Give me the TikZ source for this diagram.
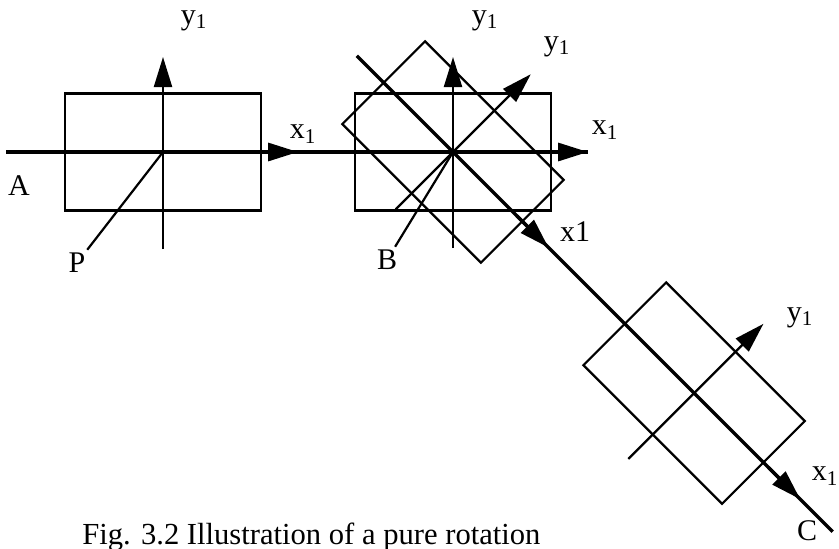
\documentclass[tikz,border=0pt]{standalone}
\usepackage{fontspec}
\setmainfont{Liberation Serif}
\usetikzlibrary{arrows.meta, positioning}

\begin{document}
\begin{tikzpicture}[
    x=0.5pt, y=0.5pt,   % 1 unit = 1 px of the scan
    >={Triangle[length=15pt, width=9pt]},
    frame/.style={line width=1.1pt},
    mainaxis/.style={line width=1.6pt},
    subaxis/.style={line width=1.1pt},
    lbl/.style={font=\fontsize{15}{18}\selectfont, inner sep=1.5pt}
]
    \useasboundingbox (0,0) rectangle (839,548);

    % --- centres of the three frames ---
    \coordinate (P0) at (163,396);
    \coordinate (B0) at (453,396);

    % --- frame at A ---
    \begin{scope}[shift={(P0)}]
        \draw[frame] (-98,-58.5) rectangle (98,58.5);
        \draw[subaxis, ->] (0,-97) -- (0,95);
    \end{scope}

    % --- horizontal axis A -> B ---
    \coordinate (hstart) at (6,396);
    \coordinate (htipA) at (298,396);
    \coordinate (htipB) at (588,396);
    \draw[mainaxis] (hstart) -- (htipB);
    \draw[mainaxis, ->] (250,396) -- (htipA);
    \draw[mainaxis, ->] (540,396) -- (htipB);

    % --- frame at B, before rotation ---
    \begin{scope}[shift={(B0)}]
        \draw[frame] (-98,-58.5) rectangle (98,58.5);
        \draw[subaxis, ->] (0,-96) -- (0,95);
    \end{scope}

    % --- frame at B after rotation, then at C ---
    \begin{scope}[shift={(B0)}, rotate=-45]
        \draw[frame] (-98,-58.5) rectangle (98,58.5);
        \draw[subaxis, ->] (0,-81) -- (0,110);
        \coordinate (dstart) at (-136,0);
        \coordinate (dtipB) at (135,0);
        \coordinate (dtipC) at (491,0);
        \coordinate (dend) at (537,0);
        \draw[mainaxis] (dstart) -- (dend);
        \draw[mainaxis, ->] (90,0) -- (dtipB);
        \draw[mainaxis, ->] (446,0) -- (dtipC);
        \begin{scope}[shift={(341,0)}]
            \draw[frame] (-98,-58.5) rectangle (98,58.5);
            \draw[subaxis, ->] (0,-93) -- (0,98);
        \end{scope}
    \end{scope}

    % --- labels ---
    \node[lbl] (yA) at (194,527) {y\textsubscript{1}};
    \node[lbl] (xA) at (303,414) {x\textsubscript{1}};
    \node[lbl] (lblA) at (19,362) {A};
    \node[lbl] (lblP) at (77,285) {P};

    \node[lbl] (yB) at (485,527) {y\textsubscript{1}};
    \node[lbl] (yBr) at (557,501) {y\textsubscript{1}};
    \node[lbl] (xB) at (605,418) {x\textsubscript{1}};
    \node[lbl] (xBr) at (575,316) {x1};
    \node[lbl] (lblB) at (387,288) {B};

    \node[lbl] (yC) at (800,230) {y\textsubscript{1}};
    \node[lbl] (xC) at (825,72) {x\textsubscript{1}};
    \node[lbl] (lblC) at (807,17) {C};

    % --- pointers to the origins ---
    \draw[frame] (P0) -- (lblP);
    \draw[frame] (B0) -- (lblB);

    % --- caption ---
    \node[lbl, font=\fontsize{15.3}{18}\selectfont, anchor=base west, inner sep=0pt] (caption)
        at (82,4) {Fig. 3.2 Illustration of a pure rotation};
\end{tikzpicture}
\end{document}
